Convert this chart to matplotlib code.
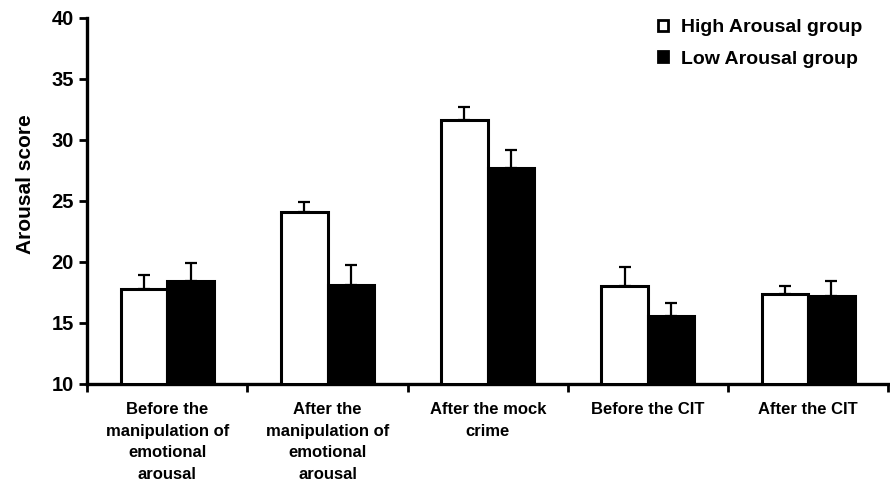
import matplotlib

matplotlib.use("Agg")
import matplotlib.pyplot as plt
from matplotlib.patches import Patch
import numpy as np


categories = [
    "Before the\nmanipulation of\nemotional\narousal",
    "After the\nmanipulation of\nemotional\narousal",
    "After the mock\ncrime",
    "Before the CIT",
    "After the CIT",
]
high_mean = [17.8, 24.1, 31.6, 18.0, 17.4]
high_err = [1.1, 0.8, 1.1, 1.6, 0.65]
low_mean = [18.45, 18.1, 27.7, 15.6, 17.2]
low_err = [1.5, 1.65, 1.5, 1.0, 1.2]
series_names = ["High Arousal group", "Low Arousal group"]
y_ticks = [10, 15, 20, 25, 30, 35, 40]

plt.rcParams["font.family"] = ["Liberation Sans", "DejaVu Sans"]
plt.rcParams["font.weight"] = "bold"

fig = plt.figure(figsize=(8.9, 4.86), dpi=100)
ax = fig.add_axes([0.098, 0.21, 0.9, 0.753])

x = np.arange(len(categories))
w = 0.29
lw = 2.2

ax.bar(x - w / 2, np.array(high_mean) - 10, w, bottom=10, color="white",
       edgecolor="black", linewidth=lw, zorder=3)
ax.bar(x + w / 2, np.array(low_mean) - 10, w, bottom=10, color="black",
       edgecolor="black", linewidth=lw, zorder=3)

# Только верхние усы, как на оригинале.
zeros = [0] * len(categories)
ax.errorbar(x - w / 2, high_mean, yerr=[zeros, high_err], fmt="none",
            ecolor="black", elinewidth=1.6, capsize=4, capthick=1.6, zorder=2)
ax.errorbar(x + w / 2, low_mean, yerr=[zeros, low_err], fmt="none",
            ecolor="black", elinewidth=1.6, capsize=4, capthick=1.6, zorder=2)

ax.set_xlim(-0.5, len(categories) - 0.5)
ax.set_ylim(10, 40)
ax.set_yticks(y_ticks)
ax.tick_params(axis="y", labelsize=14.5, width=2, length=6, direction="out")

# Засечки на границах категорий, подписи по центрам.
ax.set_xticks(np.arange(len(categories) + 1) - 0.5)
ax.set_xticklabels([])
ax.tick_params(axis="x", which="major", width=2, length=6, direction="out")
ax.set_xticks(x, minor=True)
ax.set_xticklabels(categories, minor=True, linespacing=1.55, fontsize=12)
ax.tick_params(axis="x", which="minor", length=0, pad=13)

for s in ["top", "right"]:
    ax.spines[s].set_visible(False)
for s in ["left", "bottom"]:
    ax.spines[s].set_linewidth(2.4)

ax.set_ylabel("Arousal score", fontsize=15, fontweight="bold")
ax.yaxis.set_label_coords(-0.065, 0.545)

handles = [
    Patch(facecolor="white", edgecolor="black", linewidth=2),
    Patch(facecolor="black", edgecolor="black", linewidth=2),
]
ax.legend(handles, series_names, loc="upper right", bbox_to_anchor=(0.99, 1.045),
          frameon=False, fontsize=14, handlelength=0.5, handleheight=0.5,
          handletextpad=0.7, labelspacing=0.75)

fig.savefig("out.png", dpi=100)
